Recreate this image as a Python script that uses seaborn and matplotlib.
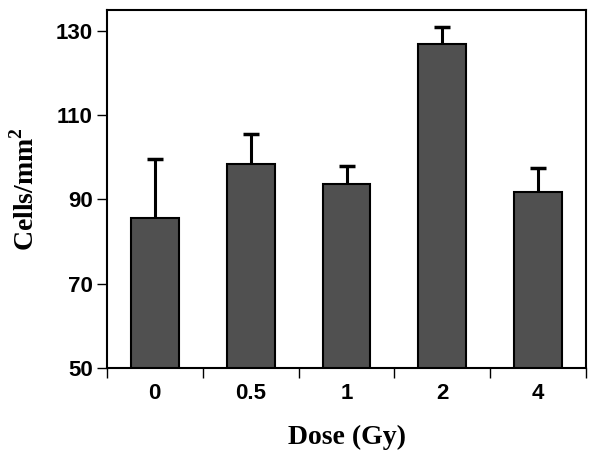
import matplotlib
matplotlib.use("Agg")
import matplotlib.pyplot as plt
import seaborn as sns
import numpy as np
import pandas as pd

doses = ["0", "0.5", "1", "2", "4"]
means = [85.7, 98.3, 93.6, 126.8, 91.7]
errors = [14.0, 7.2, 4.4, 4.0, 5.7]
yticks = [50, 70, 90, 110, 130]

sns.set_style("ticks")
plt.rcParams["mathtext.fontset"] = "custom"
plt.rcParams["mathtext.bf"] = "Liberation Serif:bold"
plt.rcParams["mathtext.rm"] = "Liberation Serif"
plt.rcParams["text.color"] = "black"
plt.rcParams["axes.labelcolor"] = "black"
plt.rcParams["xtick.color"] = "black"
plt.rcParams["ytick.color"] = "black"

df = pd.DataFrame({"dose": doses, "cells": means})

fig = plt.figure(figsize=(6, 4.59), dpi=100)
ax = fig.add_axes([0.178, 0.198, 0.799, 0.781])

sns.barplot(data=df, x="dose", y="cells", color="#505050", saturation=1,
            edgecolor="black", linewidth=1.5, width=0.5, ax=ax, errorbar=None)
xpos = np.arange(len(doses))
eb = ax.errorbar(xpos, means, yerr=[np.zeros(len(errors)), errors], fmt="none",
                 ecolor="black", elinewidth=2.2, capsize=6, capthick=2.5, zorder=5)
caplines = eb.lines[1]
if len(caplines) >= 2:
    caplines[0].set_visible(False)

ax.set_ylim(50, 135)
ax.set_xlim(-0.5, len(doses) - 0.5)
ax.set_yticks(yticks)
ax.set_yticklabels([str(v) for v in yticks], fontsize=16, fontweight="bold",
                   family="Liberation Sans", color="black")
ax.set_xticks(xpos)
ax.set_xticklabels(doses, fontsize=16, fontweight="bold", family="Liberation Sans",
                   color="black")
ax.set_xticks(np.arange(-0.5, len(doses), 1.0), minor=True)
ax.tick_params(axis="x", which="major", length=0, pad=11)
ax.tick_params(axis="x", which="minor", length=7, width=1, direction="out",
               color="black")
ax.tick_params(axis="y", which="major", length=7, width=1, direction="out", pad=3,
               color="black")

for s in ax.spines.values():
    s.set_visible(True)
    s.set_linewidth(1.5)
    s.set_color("black")

ax.set_xlabel("Dose (Gy)", fontsize=20, fontweight="bold", family="Liberation Serif",
              labelpad=15, color="black")
ax.set_ylabel("Cells/mm$^\\mathbf{2}$", fontsize=20, fontweight="bold",
              family="Liberation Serif", labelpad=12, color="black")

fig.savefig("out.png", dpi=100)
